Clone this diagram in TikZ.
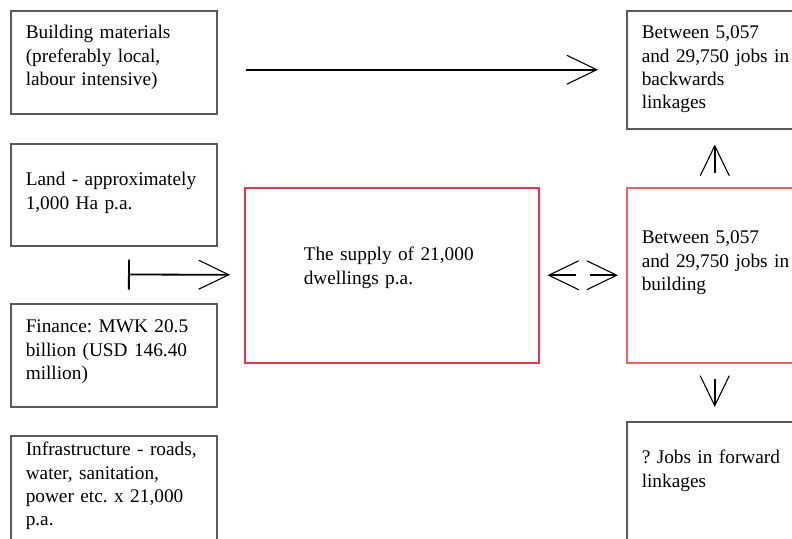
\documentclass[tikz,border=0pt]{standalone}
\usepackage{fontspec}
\setmainfont{Liberation Serif}
\usetikzlibrary{arrows.meta}
\definecolor{boxgray}{HTML}{5A5A5A}
\definecolor{supplyred}{HTML}{E8344E}
\definecolor{buildred}{HTML}{F06060}
\frenchspacing
\begin{document}
\begin{tikzpicture}[
        x=1pt, y=-1pt,
        font=\fontsize{19.3}{23.3}\selectfont,
        box/.style={draw=boxgray, line width=1.5pt, rectangle, anchor=north west, align=left,
            text width=176pt, inner xsep=15pt, inner ysep=0pt, minimum width=206pt, text height=13pt},
        rbox/.style={box, text width=146pt, minimum width=176pt},
        barb/.tip={Straight Barb[length=30pt, width=29pt, line width=1.1pt]},
        arrow/.style={-barb, line width=1.8pt}
    ]
        \clip (0,0) rectangle (792,538);

        \node[box, minimum height=103pt, text depth=60pt] (materials) at (10,10) {Building materials\\(preferably local,\\labour intensive)};
        \node[box, minimum height=102pt, text depth=31pt] (land) at (10,143) {Land - approximately\\1,000 Ha p.a.};
        \node[box, minimum height=103pt, text depth=58pt] (finance) at (10,303) {Finance: MWK 20.5\\billion (USD 146.40\\million)};
        \node[box, minimum height=105pt, text depth=78pt] (infra) at (10,435) {Infrastructure - roads,\\water, sanitation,\\power etc. x 21,000\\p.a.};

        \node[box, draw=supplyred, inner xsep=59pt, minimum width=294pt, minimum height=175pt, text depth=42pt] (supply) at (244,187) {The supply of 21,000\\dwellings p.a.};

        \node[rbox, minimum height=118pt, text depth=75pt] (backlinks) at (626,10) {Between 5,057\\\mbox{and 29,750 jobs in}\\backwards\\linkages};
        \node[rbox, draw=buildred, minimum height=175pt, text depth=76pt] (building) at (626,187) {Between 5,057\\\mbox{and 29,750 jobs in}\\building};
        \node[rbox, minimum height=140pt, text depth=69pt] (forward) at (626,421) {? Jobs in forward\\linkages};

        \coordinate (inputs) at (128,274.5);

        \draw[arrow, shorten <=28pt, shorten >=28pt] (materials.east |- backlinks.west) -- (backlinks.west);
        \draw[arrow, {Bar[width=30pt]}-barb, shorten >=14pt] (inputs) -- (supply);
        \draw[arrow, shorten <=50pt, shorten >=8pt] (building) -- (supply);
        \draw[arrow, shorten <=50pt, shorten >=8pt] (supply) -- (building);
        \draw[arrow, shorten <=14pt, shorten >=15pt] (building) -- (backlinks);
        \draw[arrow, shorten <=15pt, shorten >=14pt] (building) -- (forward);
    \end{tikzpicture}
\end{document}
